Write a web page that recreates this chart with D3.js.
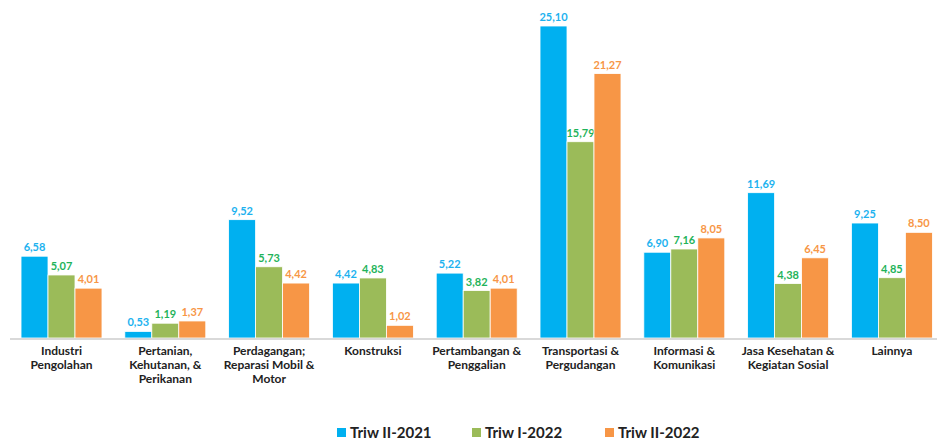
<!DOCTYPE html>
<html><head><meta charset="utf-8">
<script src="https://cdn.jsdelivr.net/npm/d3@7"></script>
<style>body{margin:0;background:#fff;}svg{display:block;}</style>
</head><body>
<svg id="c" width="937" height="441"></svg>
<script>
const categories = [
  ["Industri","Pengolahan"],
  ["Pertanian,","Kehutanan, &","Perikanan"],
  ["Perdagangan;","Reparasi Mobil &","Motor"],
  ["Konstruksi"],
  ["Pertambangan &","Penggalian"],
  ["Transportasi &","Pergudangan"],
  ["Informasi &","Komunikasi"],
  ["Jasa Kesehatan &","Kegiatan Sosial"],
  ["Lainnya"]
];
const seriesNames = ["Triw II-2021","Triw I-2022","Triw II-2022"];
const triwII2021 = [6.58,0.53,9.52,4.42,5.22,25.10,6.90,11.69,9.25];
const triwI2022  = [5.07,1.19,5.73,4.83,3.82,15.79,7.16,4.38,4.85];
const triwII2022 = [4.01,1.37,4.42,1.02,4.01,21.27,8.05,6.45,8.50];
const seriesValues = [triwII2021, triwI2022, triwII2022];
const barColors = ["#00b0f0","#9bbb59","#f79646"];
const labelColors = ["#1cb2ef","#1fb35a","#f79646"];

const svg = d3.select("#c");
const baseY = 338;
const y = d3.scaleLinear().domain([0, 25.10]).range([baseY, 26]);
const x0 = d3.scaleBand().domain(d3.range(categories.length)).range([9.6, 943.8]).paddingInner(0.22).paddingOuter(0.11);
const x1 = d3.scaleBand().domain(d3.range(seriesNames.length)).range([0, x0.bandwidth()]);

const g = svg.append("g");
categories.forEach((c, i) => {
  seriesValues.forEach((vals, s) => {
    const v = vals[i];
    const bx = x0(i) + x1(s);
    g.append("rect").attr("x", bx).attr("y", y(v)).attr("width", x1.bandwidth()).attr("height", baseY - y(v))
      .attr("fill", barColors[s]).attr("stroke", "#fff").attr("stroke-width", 0.8);
    g.append("text").attr("x", bx + x1.bandwidth()/2).attr("y", y(v) - 5)
      .attr("text-anchor", "middle").attr("font-family", "Lato, 'Open Sans', sans-serif").attr("font-weight", 700)
      .attr("font-size", 11).attr("fill", labelColors[s]).text(d3.format(".2f")(v).replace(".", ","));
  });
});

svg.append("line").attr("x1", 10).attr("x2", 937).attr("y1", baseY + 1).attr("y2", baseY + 1)
  .attr("stroke", "#d9d9d9").attr("stroke-width", 2);

categories.forEach((lines, i) => {
  lines.forEach((ln, k) => {
    svg.append("text").attr("text-anchor", "middle")
      .attr("font-family", "Lato, 'Open Sans', sans-serif").attr("font-weight", 700).attr("font-size", 12).attr("fill", "#222")
      .attr("x", x0(i) + x0.bandwidth()/2).attr("y", 355 + k*14).text(ln);
  });
});

const legendX = [337, 472, 605];
seriesNames.forEach((n, s) => {
  svg.append("rect").attr("x", legendX[s]).attr("y", 428).attr("width", 9).attr("height", 9).attr("fill", barColors[s]);
  svg.append("text").attr("x", legendX[s] + 13).attr("y", 438)
    .attr("font-family", "Lato, 'Open Sans', sans-serif").attr("font-weight", 700).attr("font-size", 15).attr("fill", "#222").text(n);
});
</script>
</body></html>
